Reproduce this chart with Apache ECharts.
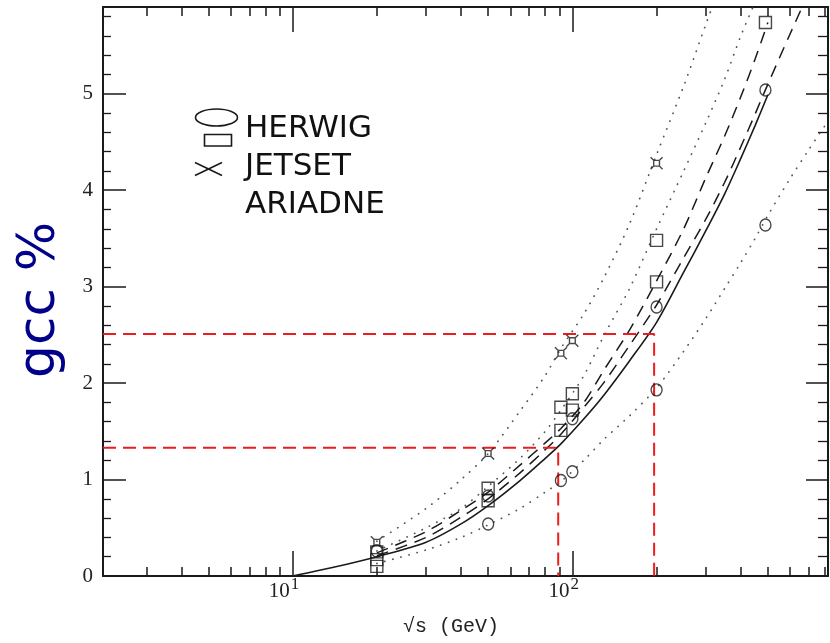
<!DOCTYPE html>
<html>
<head>
<meta charset="utf-8">
<title>gcc % vs sqrt(s)</title>
<script src="https://cdn.jsdelivr.net/npm/echarts@6/dist/echarts.min.js"></script>
<style>
  html, body { margin: 0; padding: 0; background: #fff; }
  #chart { width: 830px; height: 643px; }
</style>
</head>
<body>
<div id="chart"></div>
<script>
// centre-of-mass energies (GeV) at which the curves were read
const energy = [10, 14, 20, 30, 40, 50, 65, 80, 91, 110, 130, 160, 200, 250, 300, 350, 400, 450, 500, 600, 700, 800];

// curves, gcc in %  (null = curve not drawn there)
const solidCurve  = [0, 0.09, 0.20, 0.35, 0.54, 0.73, 0.99, 1.22, 1.37, 1.63, 1.88, 2.23, 2.63, 3.15, 3.58, 3.96, 4.33, 4.67, 4.99, null, null, null];
const dashUpper   = [null, null, 0.24, 0.46, 0.68, 0.87, 1.15, 1.38, 1.53, 1.80, 2.14, 2.55, 3.06, 3.60, 4.13, 4.56, 4.97, 5.36, 5.74, null, null, null];
const dashLower   = [null, null, 0.21, 0.40, 0.61, 0.80, 1.07, 1.31, 1.47, 1.75, 2.01, 2.39, 2.81, 3.30, 3.70, 4.08, 4.45, 4.79, 5.10, 5.62, 6.05, null];
const dotOuter    = [null, null, 0.36, 0.70, 1.00, 1.27, 1.71, 2.08, 2.36, 2.72, 3.10, 3.65, 4.37, 5.08, 5.72, 6.25, null, null, null, null, null, null];
const dotInner    = [null, null, 0.26, 0.50, 0.70, 0.93, 1.22, 1.50, 1.72, 2.08, 2.50, 2.98, 3.60, 4.20, 4.70, 5.15, 5.60, 5.95, null, null, null, null];
const dotLow      = [null, null, 0.13, 0.27, 0.40, 0.53, 0.70, 0.87, 0.98, 1.20, 1.42, 1.66, 1.95, 2.33, 2.67, 2.98, 3.25, 3.50, 3.74, 4.12, 4.42, 4.67];

// generator points
const circleE = [20, 50, 50, 91, 100, 100, 200, 200, 490, 490];
const circleG = [0.26, 0.83, 0.54, 0.99, 1.63, 1.08, 2.79, 1.93, 5.04, 3.64];
const squareE = [20, 20, 20, 50, 50, 91, 91, 100, 100, 200, 200, 490];
const squareG = [0.25, 0.17, 0.10, 0.91, 0.78, 1.75, 1.51, 1.89, 1.72, 3.48, 3.05, 5.74];
const starE = [20, 50, 91, 100, 200];
const starG = [0.35, 1.27, 2.31, 2.44, 4.28];

// red guide lines (energy, gcc)
const guideE = [89, 196];
const guideG = [1.33, 2.51];

// axes
const xMin = 2.1, xMax = 820;
const yMin = 0, yMax = 5.9;
const xMajor = [10, 100];
const xMinor = [3, 4, 5, 6, 7, 8, 9, 20, 30, 40, 50, 60, 70, 80, 90, 200, 300, 400, 500, 600, 700, 800];
const yMajor = [0, 1, 2, 3, 4, 5];

const ink = '#1a1a1a';
const starPath = 'path://M0,0L2.6,2.6L7.4,2.6L10,0M10,10L7.4,7.4L2.6,7.4L0,10M2.6,2.6L2.6,7.4M7.4,2.6L7.4,7.4';

function pairs(xs, ys) {
    const out = [];
    xs.forEach((x, i) => { if (ys[i] != null) out.push([x, ys[i]]); });
    return out;
}

function curve(ys, style) {
    return {
        type: 'line',
        data: pairs(energy, ys),
        smooth: 0.3,
        showSymbol: false,
        symbol: 'none',
        lineStyle: style,
        z: 2,
        silent: true
    };
}

function points(xs, ys, symbol, size) {
    return {
        type: 'scatter',
        data: pairs(xs, ys),
        symbol: symbol,
        symbolSize: size,
        itemStyle: { color: 'rgba(0,0,0,0)', borderColor: ink, borderWidth: 1.4 },
        z: 4,
        silent: true
    };
}

function guide(i) {
    return {
        type: 'line',
        data: [[xMin, guideG[i]], [guideE[i], guideG[i]], [guideE[i], 0]],
        showSymbol: false,
        symbol: 'none',
        lineStyle: { color: '#ee1c1c', width: 2, type: [13, 7] },
        z: 3,
        silent: true
    };
}

function xAxisDef(pos, ticks, len, main) {
    return {
        type: 'log',
        logBase: 10,
        min: xMin,
        max: xMax,
        position: pos,
        axisLine: { show: main, onZero: false, lineStyle: { color: ink, width: 2 } },
        axisTick: { show: true, inside: true, length: len, customValues: ticks, lineStyle: { color: ink, width: 1.5 } },
        axisLabel: { show: false },
        splitLine: { show: false }
    };
}

function yAxisDef(pos, len, minorLen) {
    return {
        type: 'value',
        min: yMin,
        max: yMax,
        interval: 1,
        position: pos,
        axisLine: { show: true, onZero: false, lineStyle: { color: ink, width: 2 } },
        axisTick: { show: true, inside: true, length: len, customValues: yMajor, lineStyle: { color: ink, width: 1.5 } },
        minorTick: { show: true, splitNumber: 5, length: minorLen, lineStyle: { color: ink, width: 1.3 } },
        axisLabel: { show: false },
        splitLine: { show: false }
    };
}

const xBottom = xAxisDef('bottom', xMajor, 25, true);
xBottom.axisLabel = {
    show: true,
    customValues: xMajor,
    margin: 4,
    padding: [0, 17, 0, 0],
    formatter: v => '{b|10}{s|' + Math.round(Math.log10(v)) + '}',
    rich: {
        b: { fontSize: 21, fontFamily: 'Liberation Serif', color: '#222', verticalAlign: 'bottom', lineHeight: 22 },
        s: { fontSize: 17, fontFamily: 'Liberation Serif', color: '#222', verticalAlign: 'bottom', lineHeight: 17, padding: [0, 0, 9, 1] }
    }
};

const yLeft = yAxisDef('left', 23, 8);
yLeft.axisLabel = {
    show: true,
    customValues: yMajor,
    margin: 10,
    fontSize: 21,
    fontFamily: 'Liberation Serif',
    color: '#222'
};

const dotted = { color: '#555', width: 1.7, type: [0.3, 8], cap: 'round' };
const dashed = { color: ink, width: 1.5, type: [12, 8] };

const option = {
    animation: false,
    backgroundColor: '#fff',
    grid: { left: 103, right: 2, top: 7, bottom: 67, containLabel: false, outerBoundsMode: 'none' },
    xAxis: [
        xBottom,
        xAxisDef('bottom', xMinor, 9, false),
        xAxisDef('top', xMajor, 25, true),
        xAxisDef('top', xMinor, 9, false)
    ],
    yAxis: [
        yLeft,
        yAxisDef('right', 22, 10)
    ],
    series: [
        curve(dotOuter, dotted),
        curve(dotInner, dotted),
        curve(dotLow, dotted),
        curve(dashUpper, dashed),
        curve(dashLower, dashed),
        curve(solidCurve, { color: ink, width: 1.6 }),
        guide(0),
        guide(1),
        points(circleE, circleG, 'circle', [11, 12]),
        points(squareE, squareG, 'rect', 12),
        points(starE, starG, starPath, 12)
    ],
    graphic: [
        // y axis title
        {
            type: 'text', x: 40, y: 300, rotation: Math.PI / 2,
            style: { text: 'gcc %', font: '52px "DejaVu Sans"', fill: '#000088', textAlign: 'center', textVerticalAlign: 'middle' }
        },
        // x axis title
        {
            type: 'text', x: 451, y: 627,
            style: { text: '\u221As (GeV)', font: '20px "Liberation Mono"', fill: '#222', textAlign: 'center', textVerticalAlign: 'middle' }
        },
        // hand-drawn key
        { type: 'ellipse', shape: { cx: 216.5, cy: 117.5, rx: 21, ry: 8.5 }, style: { fill: 'none', stroke: ink, lineWidth: 1.6 } },
        { type: 'rect', shape: { x: 204.5, y: 134.5, width: 27, height: 11.5 }, style: { fill: 'none', stroke: ink, lineWidth: 1.6 } },
        { type: 'line', shape: { x1: 195, y1: 162.5, x2: 222, y2: 175.5 }, style: { stroke: ink, lineWidth: 1.6 } },
        { type: 'line', shape: { x1: 195, y1: 175.5, x2: 222, y2: 162.5 }, style: { stroke: ink, lineWidth: 1.6 } },
        { type: 'text', x: 245, y: 129, style: { text: 'HERWIG', font: '31px "DejaVu Sans"', fill: '#111', textAlign: 'left', textVerticalAlign: 'middle' } },
        { type: 'text', x: 245, y: 167, style: { text: 'JETSET', font: '31px "DejaVu Sans"', fill: '#111', textAlign: 'left', textVerticalAlign: 'middle' } },
        { type: 'text', x: 245, y: 205, style: { text: 'ARIADNE', font: '31px "DejaVu Sans"', fill: '#111', textAlign: 'left', textVerticalAlign: 'middle' } }
    ]
};

const myChart = echarts.init(document.getElementById('chart'), null, { renderer: 'canvas' });
myChart.setOption(option);
</script>
</body>
</html>
